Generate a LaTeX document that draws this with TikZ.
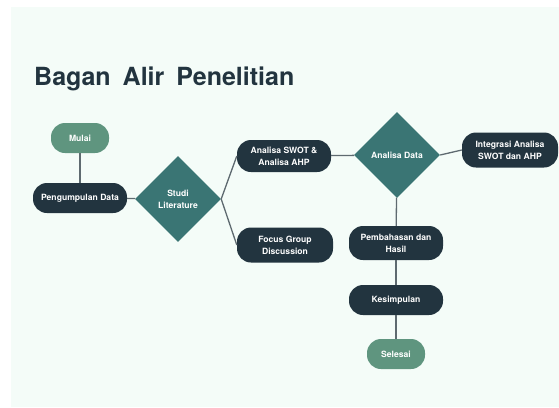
\documentclass[tikz,border=0pt]{standalone}
\usepackage{fontspec}
\setmainfont{TeX Gyre Heros}
\usetikzlibrary{shapes.geometric}

\definecolor{bgmint}{HTML}{F4FCF8}
\definecolor{darkbox}{HTML}{22343F}
\definecolor{tealbox}{HTML}{3A7574}
\definecolor{mintbox}{HTML}{5F957F}
\definecolor{linegray}{HTML}{5E6A70}

\begin{document}
\begin{tikzpicture}[x=1pt,y=-1pt,
   box/.style={rectangle,rounded corners=14pt,fill=darkbox,text=white,
     font=\fontsize{8.6}{12}\selectfont\bfseries,align=center,inner sep=0pt,
     minimum width=94pt,minimum height=32pt},
   ends/.style={box,fill=mintbox,minimum width=58pt,minimum height=30pt},
   choice/.style={diamond,aspect=1,fill=tealbox,text=white,
     font=\fontsize{8.6}{12}\selectfont\bfseries,align=center,inner sep=0pt,
     minimum width=86pt,minimum height=86pt},
   link/.style={draw=linegray,line width=1.3pt}]
   \useasboundingbox (0,0) rectangle (559,407);
   \fill[white] (0,0) rectangle (559,407);
   \fill[bgmint] (11,7) rectangle (559,407);

   \node[anchor=base west,text=darkbox,inner sep=0pt,
     font=\fontsize{25}{30}\selectfont\bfseries] (judul) at (34,85) {Bagan\hspace{12pt}Alir\hspace{12pt}Penelitian};

   \node[ends] (mulai) at (80,138) {Mulai};
   \node[box,minimum height=30pt] (pd) at (80,198) {Pengumpulan Data};
   \node[choice] (sl) at (178,199) {Studi\\Literature};
   \node[box] (swot) at (284,156) {Analisa SWOT \&\\Analisa AHP};
   \node[box,minimum width=96pt,minimum height=35pt] (fgd) at (285,245) {Focus Group\\Discussion};
   \node[choice] (ad) at (397,155) {Analisa Data};
   \node[box,minimum width=96pt,minimum height=35pt] (int) at (510,150) {Integrasi Analisa\\SWOT dan AHP};
   \node[box,minimum height=34pt] (ph) at (396,243) {Pembahasan dan\\Hasil};
   \node[box,minimum height=30pt] (kes) at (396,300) {Kesimpulan};
   \node[ends] (sel) at (396,354) {Selesai};

   \path[link] (mulai) -- (pd);
   \path[link] (pd) -- (sl);
   \path[link] (sl.east) -- (swot.west);
   \path[link] (sl.east) -- (fgd.west);
   \path[link] (swot) -- (ad);
   \path[link] (ad.east) -- (int.west);
   \path[link] (ad) -- (ph);
   \path[link] (ph) -- (kes);
   \path[link] (kes) -- (sel);
\end{tikzpicture}
\end{document}
